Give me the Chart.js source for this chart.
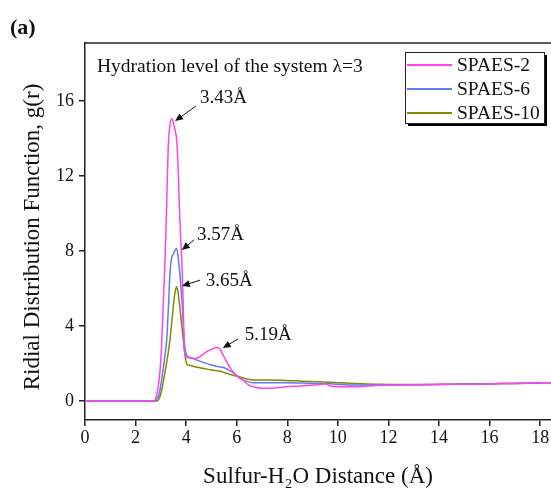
<!DOCTYPE html>
<html>
<head>
<meta charset="utf-8">
<script src="https://cdn.jsdelivr.net/npm/chart.js@4/dist/chart.umd.min.js"></script>
<style>
  html, body { margin: 0; padding: 0; background: #fff; overflow: hidden; }
  #wrap { width: 551px; height: 492px; }
</style>
</head>
<body>
<div id="wrap"><canvas id="rdf-chart" width="551" height="492"></canvas></div>
<script>
// g(r) of water around sulfonate sulfur, hydration level lambda = 3
const seriesNames = ['SPAES-2', 'SPAES-6', 'SPAES-10'];

const spaes2R = [0, 2.7, 2.77, 2.85, 2.96, 3.03, 3.09, 3.15, 3.19, 3.23, 3.29, 3.36, 3.43, 3.5, 3.57, 3.62, 3.69, 3.73, 3.78, 3.83, 3.87, 3.9, 3.93, 4.0, 4.15, 4.41, 4.6, 4.8, 5.0, 5.2, 5.32, 5.41, 5.5, 5.6, 5.8, 6.05, 6.26, 6.45, 6.65, 7.05, 7.5, 7.97, 8.5, 9.0, 9.3, 9.5, 9.7, 10.1, 10.6, 11.2, 11.66, 12.5, 13.5, 14.5, 15.5, 16.5, 17.5, 18.45];
const spaes2G = [0, 0, 0.05, 0.4, 1.5, 3.0, 5.0, 7.0, 8.6, 10.45, 13.5, 14.7, 15.05, 14.8, 14.4, 14.0, 12.2, 10.45, 8.8, 7.4, 5.8, 4.2, 2.8, 2.35, 2.3, 2.28, 2.42, 2.62, 2.75, 2.86, 2.8, 2.6, 2.35, 2.1, 1.65, 1.3, 1.1, 0.88, 0.76, 0.68, 0.7, 0.76, 0.8, 0.85, 0.88, 0.92, 0.8, 0.76, 0.76, 0.8, 0.85, 0.86, 0.88, 0.9, 0.9, 0.93, 0.95, 0.98];

const spaes6R = [0, 2.75, 2.83, 2.95, 3.05, 3.15, 3.23, 3.3, 3.36, 3.42, 3.48, 3.55, 3.62, 3.68, 3.75, 3.8, 3.85, 3.92, 3.97, 4.02, 4.2, 4.35, 4.7, 5.0, 5.3, 5.53, 5.75, 5.93, 6.13, 6.4, 6.65, 7.3, 7.97, 8.6, 9.29, 10.0, 10.6, 11.66, 12.5, 13.5, 14.5, 15.5, 16.5, 17.5, 18.45];
const spaes6G = [0, 0, 0.05, 0.5, 1.3, 2.3, 3.25, 5.0, 6.8, 7.6, 7.8, 8.0, 8.14, 7.7, 6.8, 6.0, 5.0, 3.25, 2.7, 2.45, 2.3, 2.22, 2.05, 1.92, 1.83, 1.76, 1.6, 1.45, 1.2, 1.05, 0.98, 0.98, 0.98, 0.96, 0.94, 0.9, 0.85, 0.85, 0.86, 0.87, 0.9, 0.91, 0.93, 0.95, 0.98];

const spaes10R = [0, 2.82, 2.9, 3.0, 3.08, 3.16, 3.26, 3.36, 3.43, 3.49, 3.55, 3.62, 3.68, 3.75, 3.82, 3.89, 3.95, 4.02, 4.15, 4.35, 4.7, 5.0, 5.3, 5.6, 5.85, 6.13, 6.4, 6.65, 7.3, 7.97, 8.6, 9.29, 10.0, 10.6, 11.66, 12.5, 13.5, 14.5, 15.5, 16.5, 17.5, 18.45];
const spaes10G = [0, 0, 0.05, 0.4, 0.9, 1.5, 2.3, 3.25, 4.2, 5.0, 5.7, 6.1, 5.8, 5.0, 4.1, 3.25, 2.5, 2.0, 1.9, 1.83, 1.74, 1.65, 1.6, 1.48, 1.38, 1.28, 1.18, 1.12, 1.12, 1.1, 1.06, 1.03, 0.98, 0.94, 0.89, 0.88, 0.88, 0.9, 0.91, 0.93, 0.95, 0.98];

const xTicks = [0, 2, 4, 6, 8, 10, 12, 14, 16, 18];
const yTicks = [0, 4, 8, 12, 16];

// peak labels with arrows, in data units
const peakNotes = [
    { text: '3.43Å', at: [4.55, 16.16], from: [4.39, 15.73], to: [3.56, 14.93] },
    { text: '3.57Å', at: [4.43, 8.85], from: [4.31, 8.59], to: [3.83, 8.05] },
    { text: '3.65Å', at: [4.78, 6.40], from: [4.55, 6.45], to: [3.83, 6.13] },
    { text: '5.19Å', at: [6.32, 3.52], from: [6.05, 3.31], to: [5.45, 2.83] }
];

const serif = '"Liberation Serif", "Times New Roman", serif';
const colors = ['#ff44ec', '#5b7cf2', '#878700'];

function toPoints(xs, ys) {
    return xs.map((v, i) => ({ x: v, y: ys[i] }));
}

function arrow(ctx, x1, y1, x2, y2) {
    const ang = Math.atan2(y2 - y1, x2 - x1);
    const len = 8, half = 3.5;
    ctx.beginPath();
    ctx.moveTo(x1, y1);
    ctx.lineTo(x2 - Math.cos(ang) * len * 0.8, y2 - Math.sin(ang) * len * 0.8);
    ctx.stroke();
    ctx.beginPath();
    ctx.moveTo(x2, y2);
    ctx.lineTo(x2 - Math.cos(ang) * len - Math.sin(ang) * half, y2 - Math.sin(ang) * len + Math.cos(ang) * half);
    ctx.lineTo(x2 - Math.cos(ang) * len + Math.sin(ang) * half, y2 - Math.sin(ang) * len - Math.cos(ang) * half);
    ctx.closePath();
    ctx.fill();
}

const decorations = {
    id: 'decorations',
    afterDraw(chart) {
        const { ctx, chartArea, scales } = chart;
        const sx = scales.x, sy = scales.y;
        ctx.save();

        // top frame line
        ctx.strokeStyle = '#222';
        ctx.lineWidth = 1.5;
        ctx.beginPath();
        ctx.moveTo(chartArea.left, chartArea.top);
        ctx.lineTo(chartArea.right, chartArea.top);
        ctx.stroke();

        // panel letter
        ctx.fillStyle = '#111';
        ctx.font = 'bold 22px ' + serif;
        ctx.textBaseline = 'middle';
        ctx.textAlign = 'left';
        ctx.fillText('(a)', 10, 28);

        ctx.font = '19.5px ' + serif;
        ctx.fillText('Hydration level of the system λ=3', 97, 67);

        // y axis title, centred a little below the plot middle like the original
        ctx.save();
        ctx.translate(33, 237);
        ctx.rotate(-Math.PI / 2);
        ctx.textAlign = 'center';
        ctx.font = '23px ' + serif;
        ctx.fillText('Ridial Distribution Function, g(r)', 0, 0);
        ctx.restore();

        // peak annotations
        ctx.font = '19px ' + serif;
        ctx.lineWidth = 1;
        ctx.strokeStyle = '#111';
        peakNotes.forEach(n => {
            ctx.fillText(n.text, sx.getPixelForValue(n.at[0]), sy.getPixelForValue(n.at[1]));
            arrow(ctx,
                sx.getPixelForValue(n.from[0]), sy.getPixelForValue(n.from[1]),
                sx.getPixelForValue(n.to[0]), sy.getPixelForValue(n.to[1]));
        });

        // legend box with drop shadow
        const lx = 405, ly = 52, lw = 139, lh = 71;
        ctx.fillStyle = '#000';
        ctx.fillRect(lx + 3, ly + 3, lw, lh);
        ctx.fillStyle = '#fff';
        ctx.fillRect(lx, ly, lw, lh);
        ctx.strokeStyle = '#222';
        ctx.lineWidth = 1;
        ctx.strokeRect(lx + 0.5, ly + 0.5, lw, lh);
        chart.data.datasets.forEach((ds, i) => {
            const yy = 65 + i * 24;
            ctx.strokeStyle = ds.borderColor;
            ctx.lineWidth = 2;
            ctx.beginPath();
            ctx.moveTo(407, yy);
            ctx.lineTo(452, yy);
            ctx.stroke();
            ctx.fillStyle = '#111';
            ctx.font = '19.5px ' + serif;
            ctx.fillText(ds.label, 457, yy + 1);
        });
        ctx.restore();
    }
};

new Chart(document.getElementById('rdf-chart'), {
    type: 'scatter',
    data: {
        datasets: [
            { label: seriesNames[0], data: toPoints(spaes2R, spaes2G), borderColor: colors[0] },
            { label: seriesNames[1], data: toPoints(spaes6R, spaes6G), borderColor: colors[1] },
            { label: seriesNames[2], data: toPoints(spaes10R, spaes10G), borderColor: colors[2] }
        ].map(ds => Object.assign(ds, {
            showLine: true,
            pointRadius: 0,
            borderWidth: 1.5,
            cubicInterpolationMode: 'monotone',
            backgroundColor: ds.borderColor
        }))
    },
    options: {
        responsive: false,
        animation: false,
        devicePixelRatio: 1,
        layout: { padding: { top: 43, left: 0, right: 0, bottom: 0 } },
        plugins: { legend: { display: false }, tooltip: { enabled: false } },
        scales: {
            x: {
                type: 'linear',
                min: 0,
                max: 18.43,
                afterBuildTicks: s => { s.ticks = xTicks.map(v => ({ value: v })); },
                afterFit: s => { s.height = 72; },
                grid: { display: true, drawOnChartArea: false, drawTicks: true, tickLength: 6, color: '#222', lineWidth: 1.5 },
                border: { display: true, color: '#222', width: 1.5 },
                ticks: { color: '#111', font: { family: serif, size: 18 }, padding: 1, maxRotation: 0 },
                title: {
                    display: true,
                    text: 'Sulfur-H₂O Distance (Å)',
                    color: '#111',
                    font: { family: serif, size: 23, lineHeight: 1.2 },
                    padding: { top: 0, bottom: 1 }
                }
            },
            y: {
                type: 'linear',
                min: -1.01,
                max: 19.09,
                afterBuildTicks: s => { s.ticks = yTicks.map(v => ({ value: v })); },
                afterFit: s => { s.width = 85; },
                grid: { display: true, drawOnChartArea: false, drawTicks: true, tickLength: 6, color: '#222', lineWidth: 1.5 },
                border: { display: true, color: '#222', width: 1.5 },
                ticks: { color: '#111', font: { family: serif, size: 18 }, padding: 5 }
            }
        }
    },
    plugins: [decorations]
});
</script>
</body>
</html>
